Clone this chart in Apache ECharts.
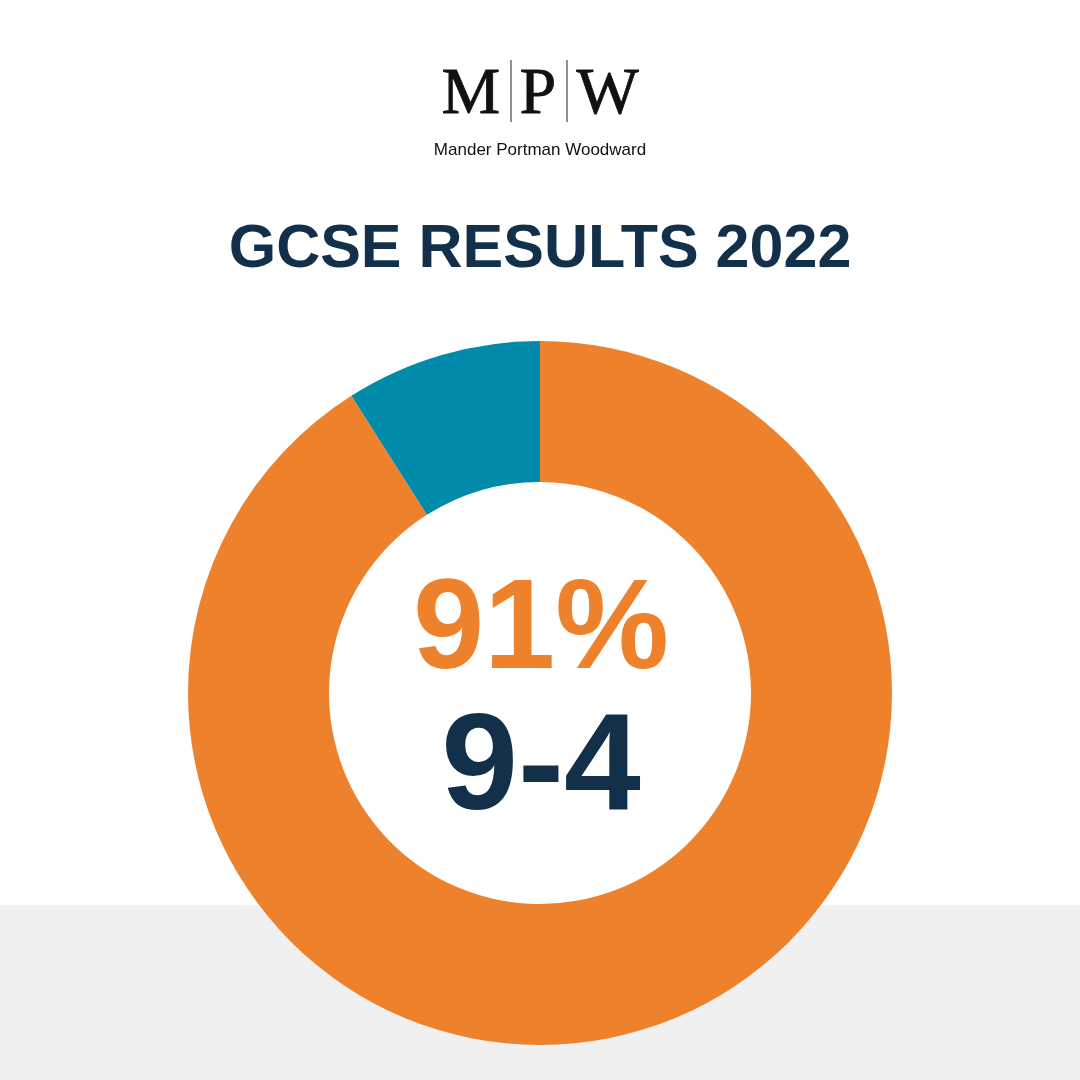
<!DOCTYPE html><html><head><meta charset="utf-8"><script src="https://cdn.jsdelivr.net/npm/echarts@6/dist/echarts.min.js"></script>
<style>html,body{margin:0;padding:0;background:#fff}#c{width:1080px;height:1080px}</style></head><body><div id="c"></div><script>
const categories=['Grades 9-4','Other'];
const values=[91,9];
const colors=['#EE812B','#008BAA'];
const chart=echarts.init(document.getElementById('c'));
chart.setOption({
 backgroundColor:'#ffffff',
 graphic:[
  {type:'rect',shape:{x:0,y:905,width:1080,height:175},style:{fill:'#F0F0F0'},z:-10},
  {type:'text',left:441,top:62,style:{text:'M',font:'66px "Liberation Serif"',fill:'#111',stroke:'#111',lineWidth:0.8}},
  {type:'text',left:519,top:62,style:{text:'P',font:'66px "Liberation Serif"',fill:'#111',stroke:'#111',lineWidth:0.8}},
  {type:'text',left:576,top:62,style:{text:'W',font:'66px "Liberation Serif"',fill:'#111',stroke:'#111',lineWidth:0.8}},
  {type:'line',shape:{x1:511,y1:60,x2:511,y2:122},style:{stroke:'#222',lineWidth:1}},
  {type:'line',shape:{x1:567,y1:60,x2:567,y2:122},style:{stroke:'#222',lineWidth:1}},
  {type:'text',x:540,y:150,style:{text:'Mander Portman Woodward',font:'17px "Liberation Sans"',fill:'#111',align:'center',verticalAlign:'middle'}},
  {type:'text',x:540,y:250,style:{text:'GCSE RESULTS 2022',font:'bold 61px "Liberation Sans"',fill:'#12304A',align:'center',verticalAlign:'middle'}},
  {type:'text',x:541,y:633,z:10,style:{text:'91%',font:'bold 128px "Liberation Sans"',fill:'#EE812B',align:'center',verticalAlign:'middle'}},
  {type:'text',x:541,y:771,z:10,style:{text:'9-4',font:'bold 138px "Liberation Sans"',fill:'#12304A',align:'center',verticalAlign:'middle'}}
 ],
 series:[{type:'pie',center:[540,693],radius:[211,352],startAngle:90,clockwise:true,label:{show:false},labelLine:{show:false},silent:true,animation:false,
  itemStyle:{borderWidth:0},
  data:categories.map((c,i)=>({name:c,value:values[i],itemStyle:{color:colors[i]}}))}]
});
</script></body></html>
